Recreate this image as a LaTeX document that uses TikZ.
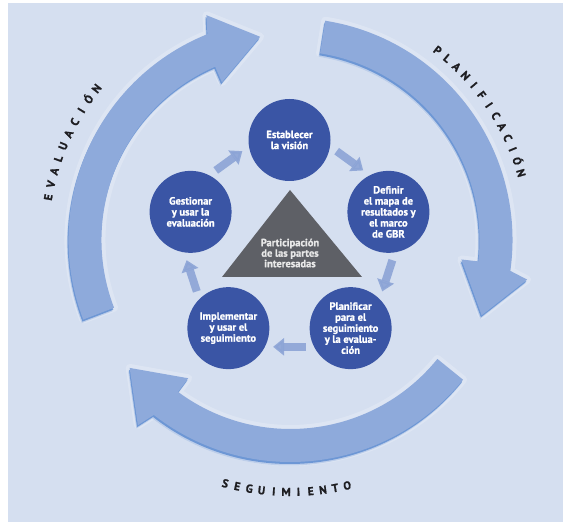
\documentclass[tikz,border=0pt]{standalone}
\usepackage{fontspec}
\setmainfont{PT Sans}[BoldFont={PT Sans Bold}]
\newfontfamily\heavyfont{PT Sans Bold}[FakeBold=1.2]
\usetikzlibrary{arrows.meta}

\definecolor{bgblue}{HTML}{D5DFF0}
\definecolor{ringblue}{HTML}{8EAADB}
\definecolor{shadeblue}{HTML}{2D6BC4}
\definecolor{stageblue}{HTML}{3A55A5}
\definecolor{flowblue}{HTML}{8CA4D6}
\definecolor{trigray}{HTML}{5E6066}
\definecolor{tritextgray}{HTML}{E8E8E8}
\definecolor{labelblack}{HTML}{1E1E22}

\tikzset{
    stage/.style={
        circle,
        fill=stageblue,
        minimum size=82pt,
        inner sep=0pt,
        text=white,
        align=center,
        font=\heavyfont\fontsize{10.5}{11}\selectfont
    },
    flow/.style={
        draw=flowblue,
        opacity=.9,
        line width=8pt,
        -{Triangle[width=17pt,length=11pt]},
        shorten <=8pt,
        shorten >=8pt
    },
    tritext/.style={
        inner sep=0pt,
        align=center,
        text=tritextgray,
        font=\heavyfont\fontsize{10.5}{10.5}\selectfont
    },
    ringlabel/.style={
        anchor=base,
        inner sep=0pt,
        text=labelblack,
        font=\heavyfont\fontsize{11.5}{11.5}\selectfont
    }
}

\newcommand{\ringshape}[2]{
    (#1:222) arc[start angle=#1, end angle=#2-1.5, radius=222]
    -- (#2-3:240) -- (#2-15:205.5) -- (#2:172) -- (#2:189)
    arc[start angle=#2, end angle=#1, radius=189] -- cycle
}
\newcommand{\ringarrow}[2]{
    \draw[white, opacity=.2, line width=8pt, line join=round] \ringshape{#1}{#2};
    \fill[shadeblue, opacity=.18, shift={(-1.5,-3.5)}] \ringshape{#1}{#2};
    \fill[shadeblue, opacity=.55, shift={(-.8,-2)}] \ringshape{#1}{#2};
    \fill[ringblue] \ringshape{#1}{#2};
}

\begin{document}
\begin{tikzpicture}[x=1pt, y=1pt]
    \useasboundingbox (0,0) rectangle (571,530);
    \fill[white] (0,0) rectangle (571,530);
    \fill[bgblue] (8,8) rectangle (563,527);
    \coordinate (ring) at (290.5,290);
    \coordinate (hub) at (289.5,286);

    % outer cycle
    \begin{scope}[shift={(ring)}]
        \foreach \k in {0,1,2} {
            \pgfmathsetmacro\tailang{81-120*\k}
            \pgfmathsetmacro\headang{-6.5-120*\k}
            \ringarrow{\tailang}{\headang}
        }
        \foreach \ch [count=\i, evaluate=\i as \ang using 52.2-3*(\i-1)] in {P,L,A,N,I,F,I,C,A,C,I,Ó,N}
            \node[ringlabel, rotate=\ang-90] (lp\i) at (\ang:236) {\ch};
        \foreach \ch [count=\i, evaluate=\i as \ang using 170-3.11*(\i-1)] in {E,V,A,L,U,A,C,I,Ó,N}
            \node[ringlabel, rotate=\ang-90] (le\i) at (\ang:242) {\ch};
        \foreach \ch [count=\i, evaluate=\i as \ang using 255-2.8*(1-\i)] in {S,E,G,U,I,M,I,E,N,T,O}
            \node[ringlabel, rotate=\ang+90] (ls\i) at (\ang:256) {\ch};
    \end{scope}

    % stages
    \node[stage] (vision) at ([shift={(90:104)}]hub) {Establecer\\la visión};
    \node[stage] (mapa) at ([shift={(18:104)}]hub) {Definir\\el mapa de\\resultados y\\el marco\\de GBR};
    \node[stage] (plan) at ([shift={(-54:104)}]hub) {Planificar\\para el\\seguimiento\\y la evalua-\\ción};
    \node[stage] (impl) at ([shift={(-126:104)}]hub) {Implementar\\y usar el\\seguimiento};
    \node[stage] (gest) at ([shift={(162:104)}]hub) {Gestionar\\y usar la\\evaluación};

    \foreach \src/\dst/\ang [evaluate=\ang as \outang using int(\ang-99), evaluate=\ang as \inang using int(\ang+27)] in {gest/vision/162, vision/mapa/90, mapa/plan/18, plan/impl/-54, impl/gest/-126}
        \draw[flow] (\src.\outang) -- (\dst.\inang);

    % centre
    \fill[trigray] (290,340) -- (362,253) -- (222,253) -- cycle;
    \node[tritext] (stake) at (290,277) {Participación\\de las partes\\interesadas};
\end{tikzpicture}
\end{document}
